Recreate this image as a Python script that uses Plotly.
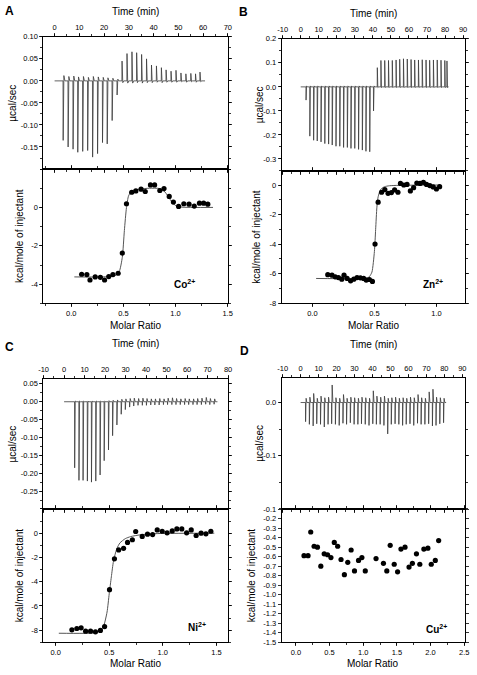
import plotly.graph_objects as go

# ---------------- DATA ----------------
# Panel A (Co2+)
a_inj_t = [3.4, 5.4, 7.4, 9.3, 11.3, 13.3, 15.3, 17.3, 19.3, 21.2, 23.2, 25.2, 27.2, 29.2,
           31.2, 33.1, 35.1, 37.1, 39.1, 41.1, 43.1, 45.0, 47.0, 49.0, 51.0, 53.0, 55.0, 56.9, 58.7]
a_peak = [-0.135, -0.150, -0.155, -0.162, -0.160, -0.158, -0.173, -0.165, -0.140, -0.143,
          -0.090, -0.032, 0.045, 0.062, 0.066, 0.064, 0.060, 0.050, 0.036, 0.034, 0.030,
          0.025, 0.022, 0.024, 0.018, 0.016, 0.017, 0.016, 0.020]
a_rebound = [0.012, 0.010, 0.011, 0.009, 0.010, 0.008, 0.010, 0.009, 0.008, 0.007, 0.006, 0.004,
             -0.004, -0.005, -0.005, -0.004, -0.005, -0.004, -0.004, -0.003, -0.004, -0.003,
             -0.003, -0.003, -0.002, -0.003, -0.002, -0.003, -0.002]
a_t_end = 60.8
a_ratio = [0.10, 0.15, 0.18, 0.23, 0.28, 0.32, 0.36, 0.40, 0.45, 0.49, 0.53, 0.58, 0.62, 0.67,
           0.71, 0.76, 0.80, 0.85, 0.89, 0.94, 0.98, 1.03, 1.08, 1.13, 1.18, 1.23, 1.27, 1.31]
a_heat = [-3.48, -3.50, -3.78, -3.62, -3.64, -3.78, -3.60, -3.50, -3.43, -2.38, 0.19, 0.79,
          0.86, 0.95, 0.83, 1.17, 1.17, 0.88, 0.98, 0.57, 0.28, 0.05, 0.19, 0.17, 0.07, 0.22,
          0.22, 0.17]
a_fit_x = [0.03, 0.30, 0.42, 0.46, 0.49, 0.51, 0.53, 0.55, 0.58, 0.65, 0.75, 0.85, 0.90, 0.95,
           1.00, 1.05, 1.36]
a_fit_y = [-3.62, -3.62, -3.55, -3.35, -2.60, -1.20, 0.00, 0.60, 0.85, 0.95, 1.00, 0.98, 0.80,
           0.40, 0.10, 0.02, 0.00]

# Panel B (Zn2+)
b_inj_t = [2.9, 5.0, 7.1, 9.1, 11.2, 13.3, 15.4, 17.4, 19.5, 21.6, 23.7, 25.8, 27.8, 29.9,
           32.0, 34.1, 36.1, 38.2, 40.3, 42.4, 44.4, 46.5, 48.6, 50.7, 52.8, 54.8, 56.9, 59.0,
           61.1, 63.1, 65.2, 67.3, 69.4, 71.4, 73.5, 75.6, 77.7, 79.8, 81.0]
b_peak = [-0.055, -0.205, -0.222, -0.225, -0.229, -0.236, -0.238, -0.242, -0.247, -0.247,
          -0.252, -0.252, -0.256, -0.256, -0.260, -0.263, -0.268, -0.270, -0.100,
          0.080, 0.110, 0.110, 0.110, 0.110, 0.112, 0.115, 0.117, 0.116, 0.114, 0.112, 0.112,
          0.113, 0.112, 0.111, 0.112, 0.112, 0.111, 0.110, 0.108]
b_rebound = [0.004] * 19 + [-0.003] * 20
b_t_end = 82.0
b_ratio = [0.124, 0.158, 0.184, 0.210, 0.237, 0.255, 0.280, 0.308, 0.334, 0.360, 0.387,
           0.413, 0.434, 0.460, 0.484, 0.505, 0.530, 0.558, 0.584, 0.610, 0.637, 0.663,
           0.690, 0.710, 0.737, 0.763, 0.790, 0.816, 0.842, 0.868, 0.895, 0.920, 0.947,
           0.974, 1.000, 1.026]
b_heat = [-6.07, -6.11, -6.22, -6.27, -6.38, -6.11, -6.33, -6.49, -6.38, -6.27, -6.29,
          -6.33, -6.44, -6.40, -6.53, -4.00, -1.16, -0.49, -0.31, -0.56, -0.51, -0.33,
          -0.49, 0.11, 0.00, 0.04, -0.40, -0.18, 0.13, 0.11, 0.18, 0.04, -0.04, -0.13,
          -0.27, -0.11]
b_fit_x = [0.03, 0.44, 0.46, 0.48, 0.50, 0.51, 0.52, 0.53, 0.55, 0.58, 0.62, 0.70, 1.03]
b_fit_y = [-6.33, -6.30, -6.20, -5.90, -4.50, -3.00, -1.50, -0.80, -0.30, -0.12, -0.05,
           -0.02, 0.00]

# Panel C (Ni2+)
c_inj_t = [5.1, 7.2, 9.2, 11.3, 13.3, 15.4, 17.5, 19.5, 21.6, 23.6, 25.7, 27.8, 29.8, 31.9,
           33.9, 36.0, 38.1, 40.1, 42.2, 44.2, 46.3, 48.4, 50.4, 52.5, 54.5, 56.6, 58.7, 60.7,
           62.8, 64.8, 66.9, 69.0, 71.0, 73.1]
c_peak = [-0.185, -0.220, -0.220, -0.222, -0.225, -0.222, -0.205, -0.165, -0.135, -0.095,
          -0.065, -0.035, -0.022, -0.015, -0.012, -0.010, -0.010, -0.010, -0.009, -0.009,
          -0.009, -0.008, -0.008, -0.008, -0.008, -0.008, -0.008, -0.008, -0.008, -0.008,
          -0.008, -0.007, -0.008, -0.007]
c_rebound = [0.002, 0.002, 0.002, 0.002, 0.002, 0.002, 0.002, 0.002, 0.003, 0.004, 0.005,
             0.007, 0.008, 0.009, 0.010, 0.009, 0.010, 0.009, 0.008, 0.008, 0.009, 0.008,
             0.010, 0.011, 0.009, 0.008, 0.009, 0.008, 0.008, 0.009, 0.010, 0.012, 0.009, 0.008]
c_t_end = 74.8
c_ratio = [0.152, 0.198, 0.238, 0.280, 0.326, 0.372, 0.418, 0.457, 0.503, 0.549, 0.588,
           0.634, 0.671, 0.716, 0.747, 0.808, 0.857, 0.905, 0.948, 0.994, 1.040, 1.088,
           1.131, 1.177, 1.222, 1.265, 1.311, 1.357, 1.402, 1.448]
c_heat = [-7.97, -7.86, -7.80, -8.08, -8.08, -8.13, -8.02, -7.70, -4.66, -2.11, -1.38,
          -1.25, -0.76, -0.54, 0.14, -0.27, -0.08, -0.11, 0.27, 0.16, 0.03, 0.19, 0.35,
          0.35, 0.03, 0.27, -0.19, 0.00, -0.05, 0.16]
c_fit_x = [0.03, 0.38, 0.42, 0.45, 0.48, 0.50, 0.52, 0.54, 0.57, 0.60, 0.65, 0.70, 0.80,
           0.90, 1.00, 1.48]
c_fit_y = [-8.25, -8.20, -8.00, -7.60, -6.50, -5.00, -3.60, -2.30, -1.30, -0.80, -0.45,
           -0.28, -0.12, -0.05, -0.02, 0.00]

# Panel D (Cu2+)
d_inj_t = [2.7, 4.8, 6.9, 8.9, 11.0, 13.1, 15.2, 17.2, 19.3, 21.4, 23.5, 25.5, 27.6, 29.7,
           31.8, 33.8, 35.9, 38.0, 40.1, 42.1, 44.2, 46.3, 48.4, 50.4, 52.5, 54.6, 56.7, 58.7,
           60.8, 62.9, 65.0, 67.0, 69.1, 71.2, 73.3, 75.3, 77.4, 79.5]
d_peak = [-0.036, -0.041, -0.044, -0.040, -0.041, -0.046, -0.041, -0.040, -0.041, -0.043,
          -0.039, -0.041, -0.038, -0.041, -0.041, -0.040, -0.041, -0.043, -0.040, -0.041,
          -0.041, -0.043, -0.059, -0.041, -0.040, -0.041, -0.043, -0.041, -0.040, -0.043,
          -0.039, -0.041, -0.041, -0.040, -0.044, -0.043, -0.040, -0.038]
d_rebound = [0.008, 0.010, 0.017, 0.008, 0.012, 0.009, 0.010, 0.033, 0.009, 0.008, 0.015,
             0.008, 0.010, 0.009, 0.008, 0.010, 0.009, 0.008, 0.022, 0.012, 0.010, 0.012,
             0.008, 0.009, 0.010, 0.008, 0.009, 0.008, 0.010, 0.009, 0.015, 0.009, 0.008,
             0.020, 0.025, 0.010, 0.009, 0.008]
d_t_end = 81.0
d_ratio = [0.12, 0.18, 0.22, 0.27, 0.32, 0.37, 0.42, 0.47, 0.52, 0.57, 0.62, 0.67, 0.72,
           0.77, 0.82, 0.87, 0.93, 0.98, 1.03, 1.19, 1.30, 1.35, 1.40, 1.46, 1.51, 1.56,
           1.62, 1.68, 1.73, 1.79, 1.84, 1.90, 1.96, 2.01, 2.07, 2.12]
d_heat = [-0.59, -0.59, -0.34, -0.49, -0.50, -0.70, -0.57, -0.58, -0.61, -0.45, -0.49,
          -0.63, -0.79, -0.66, -0.53, -0.75, -0.64, -0.61, -0.75, -0.62, -0.67, -0.75,
          -0.48, -0.68, -0.76, -0.52, -0.50, -0.71, -0.67, -0.57, -0.68, -0.52, -0.51,
          -0.68, -0.64, -0.43]

ion_labels = ["Co<sup>2+</sup>", "Zn<sup>2+</sup>", "Ni<sup>2+</sup>", "Cu<sup>2+</sup>"]
panel_letters = ["A", "B", "C", "D"]

# ---------------- LAYOUT HELPERS ----------------
W, H = 477, 675
FONT = "Liberation Sans, Arial, sans-serif"


def fx(p):
    return p / W


def fy(p):
    return 1 - p / H


def thermo(times, peaks, rebounds, t_end):
    xs, ys = [0.0], [0.0]
    for t, p, r in zip(times, peaks, rebounds):
        xs += [t, t + 0.06, t + 0.35, t + 0.75]
        ys += [0.0, p, r, 0.0]
    xs.append(t_end)
    ys.append(0.0)
    return xs, ys


def ticks(vals, fmt):
    return dict(tickmode="array", tickvals=vals, ticktext=[fmt.format(v) for v in vals])


fig = go.Figure()

panels = [
    dict(thermo=(a_inj_t, a_peak, a_rebound, a_t_end), ratio=a_ratio, heat=a_heat,
         fit=(a_fit_x, a_fit_y),
         xb=(39.3, 227.7), yt=(33, 167), yb=(167, 303),
         trange=[-4.5, 70.05], tticks=list(range(0, 71, 10)),
         urange=[-0.2, 0.1005], uticks=([0.10, 0.05, 0.00, -0.05, -0.10, -0.15], "{:.2f}"), uminor=0.025,
         mrange=[-0.266, 1.503], mticks=[0.0, 0.5, 1.0, 1.5],
         krange=[-5, 2], kticks=([0, -2, -4], "{:d}"), kminor=1,
         ion=(183, 283), letter=(5, 7), ttl_t=8, ustitle_x=8, kstitle_x=15, mr_y=325),
    dict(thermo=(b_inj_t, b_peak, b_rebound, b_t_end), ratio=b_ratio, heat=b_heat,
         fit=(b_fit_x, b_fit_y),
         xb=(282.7, 470.3), yt=(35, 169), yb=(169, 303),
         trange=[-10.5, 91.3], tticks=list(range(-10, 91, 10)),
         urange=[-0.35, 0.201], uticks=([0.2, 0.1, 0.0, -0.1, -0.2, -0.3], "{:.1f}"), uminor=0.05,
         mrange=[-0.247, 1.234], mticks=[0.0, 0.5, 1.0],
         krange=[-8.02, 0.95], kticks=([0, -2, -4, -6, -8], "{:d}"), kminor=1,
         ion=(437, 283), letter=(244, 8), ttl_t=10, ustitle_x=260, kstitle_x=257, mr_y=325),
    dict(thermo=(c_inj_t, c_peak, c_rebound, c_t_end), ratio=c_ratio, heat=c_heat,
         fit=(c_fit_x, c_fit_y),
         xb=(39.3, 228), yt=(379, 511), yb=(511, 646),
         trange=[-10.05, 80.05], tticks=list(range(-10, 81, 10)),
         urange=[-0.30, 0.065], uticks=([0.05, 0.00, -0.05, -0.10, -0.15, -0.20, -0.25], "{:.2f}"), uminor=0.025,
         mrange=[-0.113, 1.61], mticks=[0.0, 0.5, 1.0, 1.5],
         krange=[-9, 2], kticks=([0, -2, -4, -6, -8], "{:d}"), kminor=1,
         ion=(196, 630), letter=(5, 347), ttl_t=344, ustitle_x=8, kstitle_x=15, mr_y=667),
    dict(thermo=(d_inj_t, d_peak, d_rebound, d_t_end), ratio=d_ratio, heat=d_heat,
         fit=None,
         xb=(282.7, 469.5), yt=(378, 511), yb=(511, 646),
         trange=[-10.5, 91.3], tticks=list(range(-10, 91, 10)),
         urange=[-0.2, 0.047], uticks=([0.0, -0.1], "{:.1f}"), uminor=0.05,
         mrange=[-0.21, 2.506], mticks=[0.0, 0.5, 1.0, 1.5, 2.0, 2.5],
         krange=[-1.503, -0.097], kticks=([round(-0.1 * k, 1) for k in range(1, 16)], "{:.1f}"), kminor=None,
         ion=(441, 633), letter=(245, 351), ttl_t=345, ustitle_x=260, kstitle_x=252, mr_y=667),
]

TICKFONT = dict(family=FONT, size=7.5, color="black")
TITLEFONT = dict(family=FONT, size=10, color="black")
annotations = []

for i, p in enumerate(panels):
    top_n = 2 * i + 1
    bot_n = 2 * i + 2
    xt = "x" if top_n == 1 else f"x{top_n}"
    yt = "y" if top_n == 1 else f"y{top_n}"
    xb_ = f"x{bot_n}"
    yb_ = f"y{bot_n}"

    tx, ty = thermo(*p["thermo"])
    fig.add_trace(go.Scatter(x=tx, y=ty, mode="lines", line=dict(color="#3a3a3a", width=0.8),
                             xaxis=xt, yaxis=yt, showlegend=False, hoverinfo="skip"))
    if p["fit"] is not None:
        fig.add_trace(go.Scatter(x=p["fit"][0], y=p["fit"][1], mode="lines",
                                 line=dict(color="#555555", width=1, shape="spline", smoothing=0.6),
                                 xaxis=xb_, yaxis=yb_, showlegend=False, hoverinfo="skip"))
    fig.add_trace(go.Scatter(x=p["ratio"], y=p["heat"], mode="markers",
                             marker=dict(color="black", size=5.2),
                             xaxis=xb_, yaxis=yb_, showlegend=False))

    xdom = [fx(p["xb"][0]), fx(p["xb"][1])]
    common = dict(showline=True, linecolor="black", linewidth=1, mirror="ticks",
                  ticks="outside", ticklen=3, tickwidth=0.8, tickcolor="black",
                  showgrid=False, zeroline=False, tickfont=TICKFONT,
                  ticklabeloverflow="allow")
    # top: time axis
    fig.layout[("xaxis" if top_n == 1 else f"xaxis{top_n}")] = dict(
        domain=xdom, anchor=yt, side="top", range=p["trange"],
        tickmode="array", tickvals=p["tticks"], ticktext=[str(v) for v in p["tticks"]],
        minor=dict(dtick=5, tick0=0, ticks="outside", ticklen=2, tickcolor="black"),
        **common)
    fig.layout[("yaxis" if top_n == 1 else f"yaxis{top_n}")] = dict(
        domain=[fy(p["yt"][1]), fy(p["yt"][0])], anchor=xt, range=p["urange"],
        minor=dict(dtick=p["uminor"], tick0=0, ticks="outside", ticklen=2, tickcolor="black"),
        **ticks(*p["uticks"]), **common)
    # bottom: molar ratio
    fig.layout[f"xaxis{bot_n}"] = dict(
        domain=xdom, anchor=yb_, side="bottom", range=p["mrange"],
        minor=dict(dtick=0.25, tick0=0, ticks="outside", ticklen=2, tickcolor="black"),
        **ticks(p["mticks"], "{:.1f}"), **common)
    kminor = p["kminor"]
    ydict = dict(domain=[fy(p["yb"][1]), fy(p["yb"][0])], anchor=xb_, range=p["krange"],
                 **ticks(*p["kticks"]), **common)
    if kminor:
        ydict["minor"] = dict(dtick=kminor, tick0=0, ticks="outside", ticklen=2, tickcolor="black")
    fig.layout[f"yaxis{bot_n}"] = ydict

    cx = (p["xb"][0] + p["xb"][1]) / 2
    annotations += [
        dict(text="<b>" + panel_letters[i] + "</b>", x=fx(p["letter"][0]), y=fy(p["letter"][1]),
             xanchor="center", yanchor="middle", font=dict(family=FONT, size=12, color="black")),
        dict(text="Time (min)", x=fx(cx), y=fy(p["ttl_t"]), xanchor="center", yanchor="middle",
             font=TITLEFONT),
        dict(text="Molar Ratio", x=fx(cx), y=fy(p["mr_y"]), xanchor="center", yanchor="middle",
             font=TITLEFONT),
        dict(text="µcal/sec", x=fx(p["ustitle_x"]), y=fy((p["yt"][0] + p["yt"][1]) / 2),
             xanchor="center", yanchor="middle", textangle=-90, font=TITLEFONT),
        dict(text="kcal/mole of injectant", x=fx(p["kstitle_x"]),
             y=fy((p["yb"][0] + p["yb"][1]) / 2),
             xanchor="center", yanchor="middle", textangle=-90, font=TITLEFONT),
        dict(text="<b>" + ion_labels[i] + "</b>", x=fx(p["ion"][0]), y=fy(p["ion"][1]),
             xanchor="center", yanchor="middle", font=dict(family=FONT, size=10, color="black")),
    ]

for a in annotations:
    a.update(xref="paper", yref="paper", showarrow=False)

fig.update_layout(width=W, height=H, autosize=False,
                  margin=dict(l=0, r=0, t=0, b=0, pad=0),
                  paper_bgcolor="white", plot_bgcolor="white",
                  annotations=annotations, showlegend=False)

# remove the browser's default 8px page margin so the figure sits at the window origin
fig.write_html("out.html",
               config={"displayModeBar": False, "staticPlot": True},
               post_script="document.body.style.margin='0px';document.body.style.overflow='hidden';")
